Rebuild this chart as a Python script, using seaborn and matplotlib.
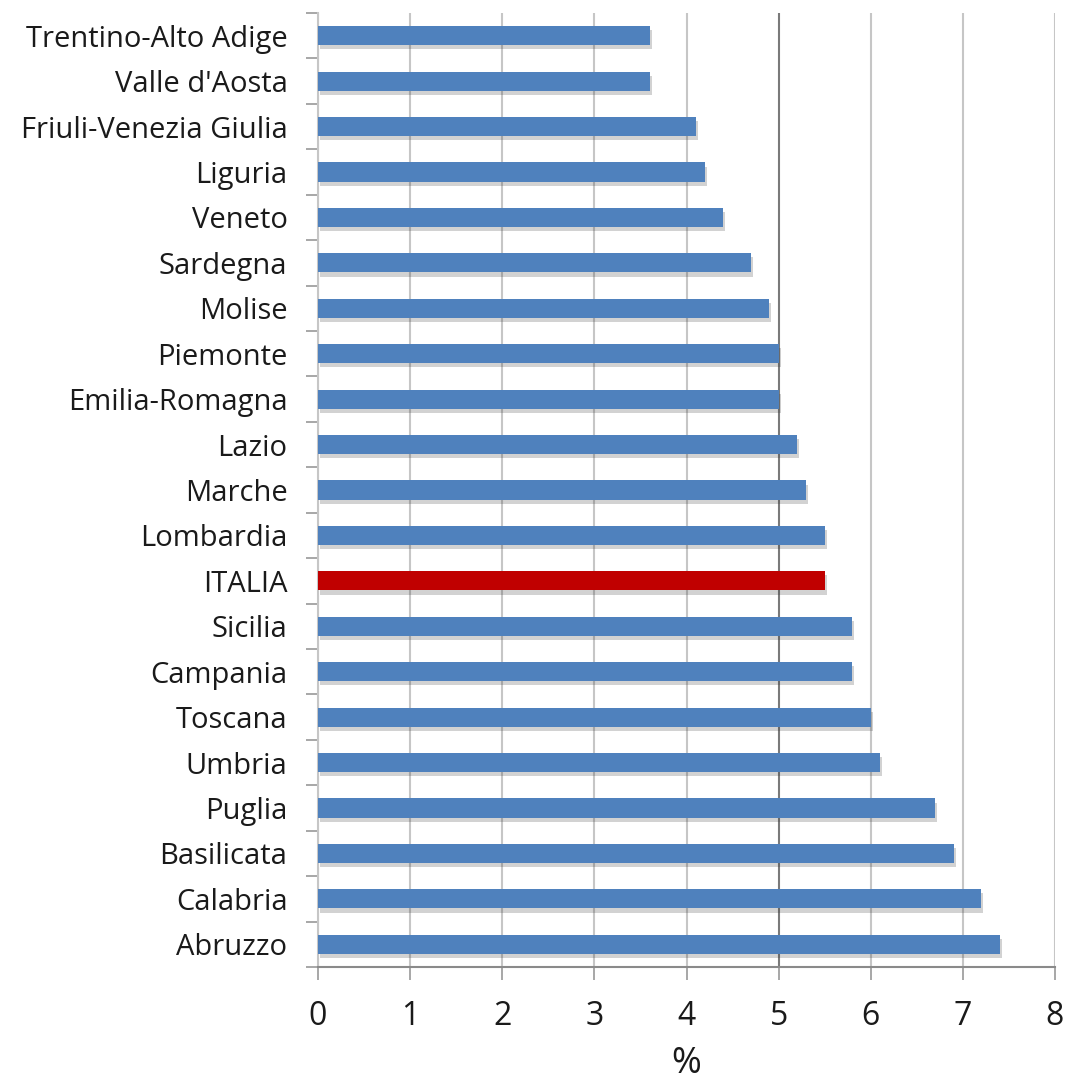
import matplotlib
matplotlib.use("Agg")
import matplotlib.pyplot as plt
import matplotlib.patheffects as pe
from matplotlib.ticker import FixedLocator
import seaborn as sns
import pandas as pd

regions = [
    "Trentino-Alto Adige", "Valle d'Aosta", "Friuli-Venezia Giulia", "Liguria",
    "Veneto", "Sardegna", "Molise", "Piemonte", "Emilia-Romagna", "Lazio",
    "Marche", "Lombardia", "ITALIA", "Sicilia", "Campania", "Toscana",
    "Umbria", "Puglia", "Basilicata", "Calabria", "Abruzzo",
]
values = [3.6, 3.6, 4.1, 4.2, 4.4, 4.7, 4.9, 5.0, 5.0, 5.2,
          5.3, 5.5, 5.5, 5.8, 5.8, 6.0, 6.1, 6.7, 6.9, 7.2, 7.4]
x_ticks = [0, 1, 2, 3, 4, 5, 6, 7, 8]
x_label = "%"

BLUE = "#4F81BD"
RED = "#C00000"
colors = {r: (RED if r == "ITALIA" else BLUE) for r in regions}

df = pd.DataFrame({"regione": regions, "valore": values})

sns.set_theme(style="white")
plt.rcParams["font.family"] = ["Open Sans", "DejaVu Sans"]

fig = plt.figure(figsize=(10.68, 10.82), dpi=100)
ax = fig.add_axes([0.2978, 0.1063, 0.6900, 0.8817])

sns.barplot(data=df, x="valore", y="regione", hue="regione", palette=colors,
            orient="h", width=0.42, saturation=1, legend=False, ax=ax,
            linewidth=0, edgecolor="none", zorder=3)

for bar in ax.patches:
    bar.set_path_effects([
        pe.SimplePatchShadow(offset=(1.5, -3), shadow_rgbFace="#333333", alpha=0.22),
        pe.Normal(),
    ])

ax.set_xlim(0, 8)
ax.set_ylim(len(regions) - 0.5, -0.5)
ax.set_xticks(x_ticks)
ax.set_xticklabels([str(t) for t in x_ticks])

# vertical gridlines, the one at 5 drawn darker
ax.grid(axis="x", color="#c6c6c6", linewidth=1.5, zorder=0)
ax.set_axisbelow(True)
for t, gl in zip(x_ticks, ax.get_xgridlines()):
    if t == 5:
        gl.set_color("#7a7a7a")

# category separators on the value axis
ax.yaxis.set_minor_locator(FixedLocator([i - 0.5 for i in range(len(regions) + 1)]))
ax.tick_params(axis="y", which="major", length=0, pad=22, labelsize=21,
               labelcolor="#1a1a1a")
ax.tick_params(axis="y", which="minor", length=9, width=1.3, color="#a0a0a0",
               direction="out", left=True)
ax.tick_params(axis="x", which="major", length=9, width=1.3, color="#a0a0a0",
               direction="out", bottom=True, labelsize=23, labelcolor="#1a1a1a",
               pad=15)

for side in ["top", "right"]:
    ax.spines[side].set_visible(False)
ax.spines["left"].set_color("#c6c6c6")
ax.spines["left"].set_linewidth(1.5)
ax.spines["bottom"].set_color("#8a8a8a")
ax.spines["bottom"].set_linewidth(1.5)

ax.set_ylabel("")
ax.set_xlabel(x_label, fontsize=26, color="#1a1a1a", labelpad=9)

fig.savefig("out.png", dpi=100, facecolor="white")
